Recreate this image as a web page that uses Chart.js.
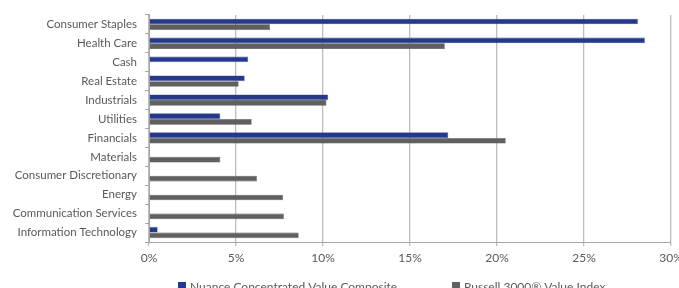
<!DOCTYPE html>
<html>
<head>
<meta charset="utf-8">
<script src="https://cdn.jsdelivr.net/npm/chart.js@4"></script>
<style>
  html, body { margin: 0; padding: 0; background: #fff; }
  #wrap { width: 679px; height: 288px; position: relative; overflow: hidden; }
</style>
</head>
<body>
<div id="wrap"><canvas id="myChart" width="679" height="288"></canvas></div>
<script>
const sectors = [
    "Consumer Staples", "Health Care", "Cash", "Real Estate", "Industrials", "Utilities",
    "Financials", "Materials", "Consumer Discretionary", "Energy",
    "Communication Services", "Information Technology"
];
const nuanceValues = [28.1, 28.5, 5.7, 5.5, 10.3, 4.1, 17.2, 0, 0, 0, 0, 0.5];
const russellValues = [6.95, 17.0, 0, 5.15, 10.2, 5.9, 20.5, 4.1, 6.2, 7.7, 7.75, 8.6];
const xTicks = [0, 5, 10, 15, 20, 25, 30];
const seriesNames = ["Nuance Concentrated Value Composite", "Russell 3000\u00AE Value Index"];

const FONT = "Lato, 'Open Sans', sans-serif";
const TEXT = "#595959";

// legend drawn by hand so the items sit far apart, like the original
const bottomLegend = {
    id: "bottomLegend",
    afterDraw(chart) {
        const ctx = chart.ctx;
        const starts = [178, 452];
        ctx.save();
        ctx.font = "12px " + FONT;
        ctx.textBaseline = "middle";
        chart.data.datasets.forEach((ds, i) => {
            ctx.fillStyle = ds.backgroundColor;
            ctx.fillRect(starts[i], 282, 8, 8);
            ctx.fillStyle = TEXT;
            ctx.fillText(ds.label, starts[i] + 12, 287);
        });
        ctx.restore();
    }
};

let ctx = document.getElementById("myChart").getContext("2d");
const myChart = new Chart(ctx, {
    type: "bar",
    data: {
        labels: sectors,
        datasets: [
            {
                label: seriesNames[0],
                data: nuanceValues,
                backgroundColor: "#24398b",
                borderColor: "#4a5ea8",
                borderWidth: 0.6,
                categoryPercentage: 0.6,
                barPercentage: 1.0
            },
            {
                label: seriesNames[1],
                data: russellValues,
                backgroundColor: "#606060",
                borderColor: "#505050",
                borderWidth: 0.6,
                categoryPercentage: 0.6,
                barPercentage: 1.0
            }
        ]
    },
    options: {
        indexAxis: "y",
        responsive: false,
        animation: false,
        maintainAspectRatio: false,
        layout: { padding: { left: 6, right: 8, top: 13, bottom: 26 } },
        plugins: {
            legend: { display: false },
            tooltip: { enabled: false }
        },
        scales: {
            x: {
                min: 0,
                max: 30,
                afterBuildTicks: (scale) => { scale.ticks = xTicks.map(v => ({ value: v })); },
                afterFit: (scale) => { scale.height = 20; scale.paddingRight = 0; scale.paddingLeft = 0; },
                grid: { color: "#bdbdbd", lineWidth: 1.3, tickLength: 4, drawTicks: true },
                border: { display: true, color: "#a6a6a6", width: 1 },
                ticks: {
                    padding: 5,
                    color: TEXT,
                    font: { family: FONT, size: 12 },
                    callback: (v) => v + "%"
                }
            },
            y: {
                afterFit: (scale) => { scale.width = 143; },
                grid: { drawOnChartArea: false, drawTicks: true, tickLength: 4, color: "#a6a6a6", offset: true },
                border: { display: true, color: "#a6a6a6", width: 1 },
                ticks: {
                    padding: 8,
                    color: TEXT,
                    font: { family: FONT, size: 11.5 },
                    autoSkip: false
                }
            }
        }
    },
    plugins: [bottomLegend]
});
</script>
</body>
</html>
